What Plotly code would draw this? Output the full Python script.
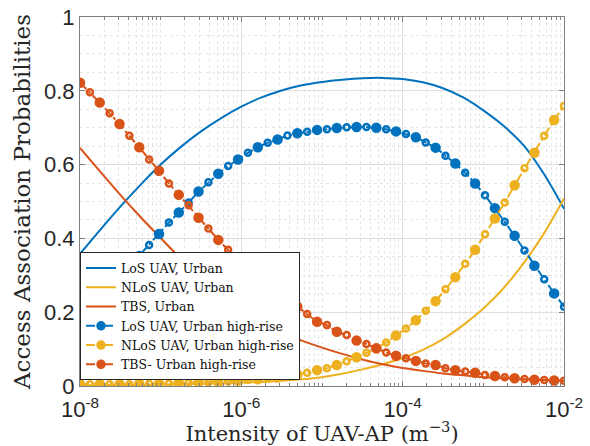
import numpy as np
import plotly.graph_objects as go

# ---------------- data ----------------
# sample grid of the high-rise curves (50 log-spaced points, 1e-8 .. 1e-2)
x_hr = np.logspace(-8, -2, 50)
# sample grid of the urban curves (every quarter decade)
x_urban_exp = [-8.0, -7.75, -7.5, -7.25, -7.0, -6.75, -6.5, -6.25, -6.0, -5.75, -5.5, -5.25,
               -5.0, -4.75, -4.5, -4.25, -4.0, -3.75, -3.5, -3.25, -3.0, -2.75, -2.5, -2.25, -2.0]
x_urban = [10 ** e for e in x_urban_exp]

los_urban = [0.358, 0.423, 0.486, 0.545, 0.600, 0.648, 0.690, 0.726, 0.757, 0.782, 0.801, 0.815,
             0.824, 0.830, 0.834, 0.835, 0.832, 0.823, 0.807, 0.782, 0.747, 0.705, 0.652, 0.575, 0.480]
nlos_urban = [0.002, 0.002, 0.003, 0.003, 0.004, 0.005, 0.006, 0.007, 0.009, 0.011, 0.014, 0.018,
              0.024, 0.033, 0.045, 0.059, 0.076, 0.098, 0.127, 0.165, 0.210, 0.265, 0.333, 0.413, 0.508]
tbs_urban = [0.645, 0.581, 0.518, 0.458, 0.401, 0.345, 0.292, 0.245, 0.205, 0.172, 0.145, 0.123,
             0.104, 0.087, 0.072, 0.059, 0.049, 0.041, 0.034, 0.029, 0.024, 0.021, 0.018, 0.016, 0.014]

los_hr = [0.180, 0.207, 0.235, 0.264, 0.294, 0.325, 0.352, 0.382, 0.412, 0.443,
          0.470, 0.497, 0.527, 0.552, 0.575, 0.596, 0.614, 0.632, 0.647, 0.659,
          0.668, 0.679, 0.685, 0.689, 0.694, 0.696, 0.699, 0.701, 0.702, 0.702,
          0.700, 0.696, 0.690, 0.683, 0.674, 0.660, 0.646, 0.624, 0.603, 0.578,
          0.549, 0.517, 0.482, 0.445, 0.407, 0.367, 0.326, 0.289, 0.251, 0.215]
nlos_hr = [0.005, 0.005, 0.005, 0.005, 0.005, 0.005, 0.006, 0.006, 0.007, 0.007,
           0.008, 0.009, 0.009, 0.010, 0.011, 0.012, 0.014, 0.016, 0.018, 0.020,
           0.023, 0.027, 0.031, 0.036, 0.043, 0.048, 0.057, 0.067, 0.078, 0.090,
           0.102, 0.118, 0.137, 0.156, 0.178, 0.204, 0.230, 0.262, 0.295, 0.331,
           0.369, 0.411, 0.454, 0.497, 0.544, 0.590, 0.632, 0.678, 0.721, 0.759]
tbs_hr = [0.822, 0.796, 0.768, 0.739, 0.710, 0.678, 0.647, 0.614, 0.583, 0.549,
          0.518, 0.490, 0.456, 0.427, 0.396, 0.369, 0.341, 0.319, 0.298, 0.277,
          0.256, 0.236, 0.215, 0.195, 0.174, 0.165, 0.147, 0.138, 0.123, 0.114,
          0.102, 0.091, 0.082, 0.075, 0.068, 0.061, 0.057, 0.048, 0.043, 0.039,
          0.036, 0.030, 0.027, 0.024, 0.021, 0.019, 0.017, 0.016, 0.015, 0.014]

names = ["LoS UAV, Urban", "NLoS UAV, Urban", "TBS, Urban",
         "LoS UAV, Urban high-rise", "NLoS UAV, Urban high-rise", "TBS- Urban high-rise"]

x_tick_vals = [1e-8, 1e-6, 1e-4, 1e-2]
x_tick_text = ["10<sup>-8</sup>", "10<sup>-6</sup>", "10<sup>-4</sup>", "10<sup>-2</sup>"]
y_tick_vals = [0, 0.2, 0.4, 0.6, 0.8, 1]
y_tick_text = ["0", "0.2", "0.4", "0.6", "0.8", "1"]

# ---------------- styling ----------------
BLUE = "#0072BD"
YELLOW = "#EDB120"
ORANGE = "#D95319"
SERIF = "DejaVu Serif, Liberation Serif, serif"
SANS = "Liberation Sans, Arial, sans-serif"

fig = go.Figure()
for x, y, c, n in [(x_urban, los_urban, BLUE, names[0]),
                   (x_urban, nlos_urban, YELLOW, names[1]),
                   (x_urban, tbs_urban, ORANGE, names[2])]:
    fig.add_trace(go.Scatter(x=x, y=y, mode="lines", name=n,
                             line=dict(color=c, width=2, shape="spline", smoothing=1.0)))

n_hr = len(x_hr)
symbols = ["circle" if i % 2 == 0 else "circle-open" for i in range(n_hr)]
sizes = [8 if i % 2 == 0 else 6 for i in range(n_hr)]
for y, c, n in [(los_hr, BLUE, names[3]), (nlos_hr, YELLOW, names[4]), (tbs_hr, ORANGE, names[5])]:
    fig.add_trace(go.Scatter(x=x_hr, y=y, mode="lines+markers", name=n,
                             line=dict(color=c, width=2, dash="dashdot"),
                             marker=dict(symbol=symbols, size=sizes, color=c, opacity=1,
                                         line=dict(color=c, width=2.5))))

minor_x = []
for e in range(-8, -2):
    for k in range(1, 10):
        v = k * 10.0 ** e
        if k == 1 and e in (-8, -6, -4):
            continue
        minor_x.append(v)
minor_y = [0.05 * i for i in range(21) if i % 4 != 0]

GRID = "#e0e0e0"
MINOR_GRID = "#e6e6e6"
AXIS = "#808080"

fig.update_layout(
    width=590, height=446,
    margin=dict(l=80, r=26, t=17, b=60),
    paper_bgcolor="white", plot_bgcolor="white",
    showlegend=True,
    legend=dict(x=0.0, y=0.015, xanchor="left", yanchor="bottom",
                bgcolor="white", bordercolor="#262626", borderwidth=1,
                font=dict(family=SERIF, size=12.5, color="#111"),
                tracegroupgap=0, itemwidth=30),
    font=dict(family=SANS, color="#262626"),
)
fig.update_xaxes(
    type="log", range=[-8, -2], automargin=False,
    tickmode="array", tickvals=x_tick_vals, ticktext=x_tick_text,
    tickfont=dict(family=SANS, size=22, color="#262626"),
    ticks="inside", ticklen=5, tickcolor=AXIS, ticklabelstandoff=4,
    showgrid=True, gridcolor=GRID, gridwidth=1,
    minor=dict(tickmode="array", tickvals=minor_x, ticks="inside", ticklen=3,
               tickcolor=AXIS, showgrid=True, gridcolor=MINOR_GRID, griddash="dot"),
    showline=True, linecolor=AXIS, linewidth=1, mirror="allticks",
    zeroline=False,
    title=dict(text="Intensity of UAV-AP (m<sup>−3</sup>)",
               font=dict(family=SERIF, size=21, color="#262626"), standoff=0),
)
fig.update_yaxes(
    range=[0, 1], automargin=False,
    tickmode="array", tickvals=y_tick_vals, ticktext=y_tick_text,
    tickfont=dict(family=SANS, size=22, color="#262626"),
    ticks="inside", ticklen=5, tickcolor=AXIS,
    showgrid=True, gridcolor=GRID, gridwidth=1,
    minor=dict(tickmode="array", tickvals=minor_y, ticks="",
               showgrid=True, gridcolor=MINOR_GRID, griddash="dot"),
    showline=True, linecolor=AXIS, linewidth=1, mirror="allticks",
    zeroline=False,
    title=dict(text="Access Association Probabilities",
               font=dict(family=SERIF, size=23, color="#262626"), standoff=6),
)

fig.write_html("out.html", config={"displayModeBar": False},
               post_script="document.body.style.margin='0';document.body.style.overflow='hidden';")
